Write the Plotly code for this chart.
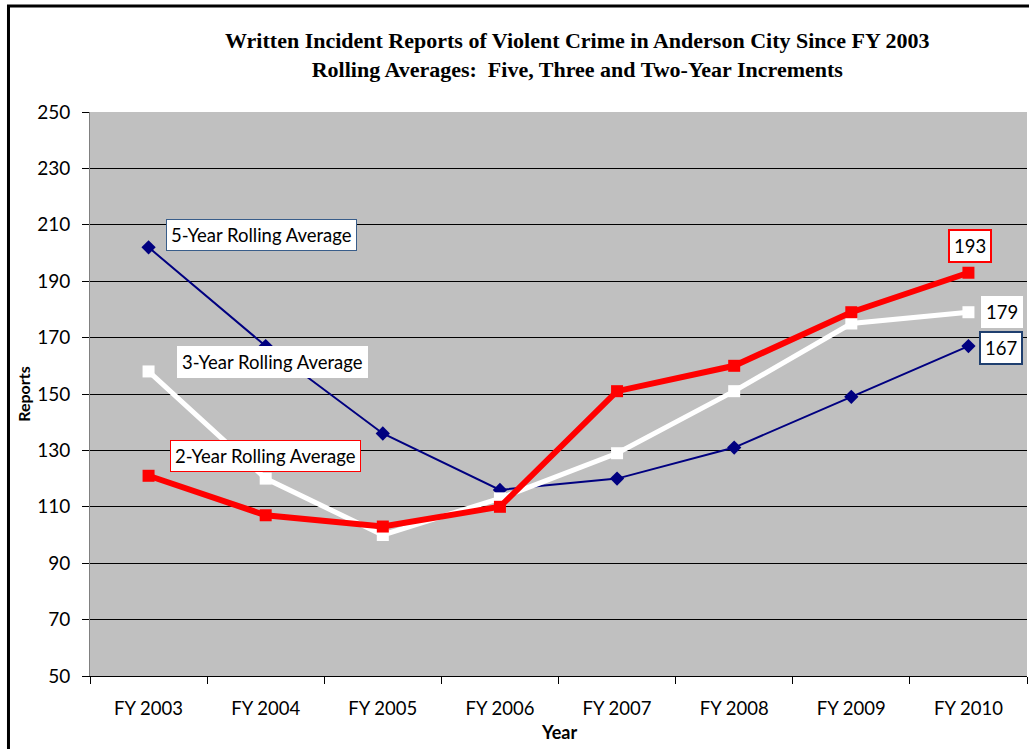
import plotly.graph_objects as go

years = ["FY 2003", "FY 2004", "FY 2005", "FY 2006", "FY 2007", "FY 2008", "FY 2009", "FY 2010"]
five_year = [202, 167, 136, 116, 120, 131, 149, 167]
three_year = [158, 120, 100, 113, 129, 151, 175, 179]
two_year = [121, 107, 103, 110, 151, 160, 179, 193]

NAVY = "#000080"
RED = "#ff0000"
SANS = "Lato, Open Sans, sans-serif"
LABEL_FONT = dict(family=SANS, size=18.5, color="black")

fig = go.Figure()
fig.add_trace(go.Scatter(
    x=years, y=five_year, mode="lines+markers", name="5-Year Rolling Average",
    line=dict(color=NAVY, width=2),
    marker=dict(symbol="diamond", size=11, color=NAVY),
))
fig.add_trace(go.Scatter(
    x=years, y=three_year, mode="lines+markers", name="3-Year Rolling Average",
    line=dict(color="white", width=5),
    marker=dict(symbol="square", size=12, color="white"),
))
fig.add_trace(go.Scatter(
    x=years, y=two_year, mode="lines+markers", name="2-Year Rolling Average",
    line=dict(color=RED, width=6),
    marker=dict(symbol="square", size=12, color=RED),
))

# series labels
labels = [
    ("5-Year Rolling Average", 0.96, 206.5, "#385d8a"),
    ("3-Year Rolling Average", 1.06, 161.5, "white"),
    ("2-Year Rolling Average", 1.0, 128, RED),
]
for text, x, y, border in labels:
    fig.add_annotation(x=x, y=y, xref="x", yref="y", text=text, showarrow=False,
                       font=LABEL_FONT, bgcolor="white", bordercolor=border,
                       borderwidth=1, borderpad=4)

# end value labels
ends = [
    (two_year[-1], 7.01, 202.5, RED),
    (three_year[-1], 7.29, 179, "white"),
    (five_year[-1], 7.28, 166.3, "#1f3f6f"),
]
for val, x, y, border in ends:
    fig.add_annotation(x=x, y=y, xref="x", yref="y", text=str(val), showarrow=False,
                       font=LABEL_FONT, bgcolor="white", bordercolor=border,
                       borderwidth=2 if border != "white" else 1, borderpad=4)

fig.add_annotation(
    x=0.52, y=1.152, xref="paper", yref="paper", showarrow=False,
    text="<b>Written Incident Reports of Violent Crime in Anderson City Since FY 2003<br>"
         "Rolling Averages:  Five, Three and Two-Year Increments</b>",
    font=dict(family="Liberation Serif, serif", size=22, color="black"),
    align="center",
)

# x axis title placed by hand so it clears the pushed-down tick labels
fig.add_annotation(
    x=0.5, y=-0.1, xref="paper", yref="paper", showarrow=False,
    text="<b>Year</b>", yanchor="middle",
    font=dict(family=SANS, size=18, color="black"),
)

# outer chart frame
fig.add_shape(type="rect", xref="paper", yref="paper",
              x0=-0.087, x1=1.05, y0=-0.2, y1=1.188,
              line=dict(color="black", width=3))

fig.update_layout(
    width=1029, height=749,
    showlegend=False,
    margin=dict(l=90, r=2, t=112, b=73),
    plot_bgcolor="#c0c0c0",
    paper_bgcolor="white",
    xaxis=dict(
        type="category", tickson="boundaries", ticks="outside", ticklen=7,
        tickcolor="black", showline=True, linecolor="black", linewidth=1,
        showgrid=False, range=[-0.5, 7.5], ticklabelstandoff=16,
        tickfont=dict(family=SANS, size=18.5, color="black"),
    ),
    yaxis=dict(
        range=[50, 250], dtick=20, tick0=50, ticks="outside", ticklen=7,
        tickcolor="black", showline=True, linecolor="#808080", linewidth=1,
        showgrid=True, gridcolor="black", gridwidth=1, zeroline=False,
        ticklabelstandoff=8,
        tickfont=dict(family=SANS, size=19, color="black"),
        title=dict(text="<b>Reports</b>", standoff=2,
                   font=dict(family=SANS, size=16, color="black")),
    ),
)

fig.write_html("out.html", config={"displayModeBar": False},
               post_script="document.body.style.margin='0';document.body.style.overflow='hidden';")
